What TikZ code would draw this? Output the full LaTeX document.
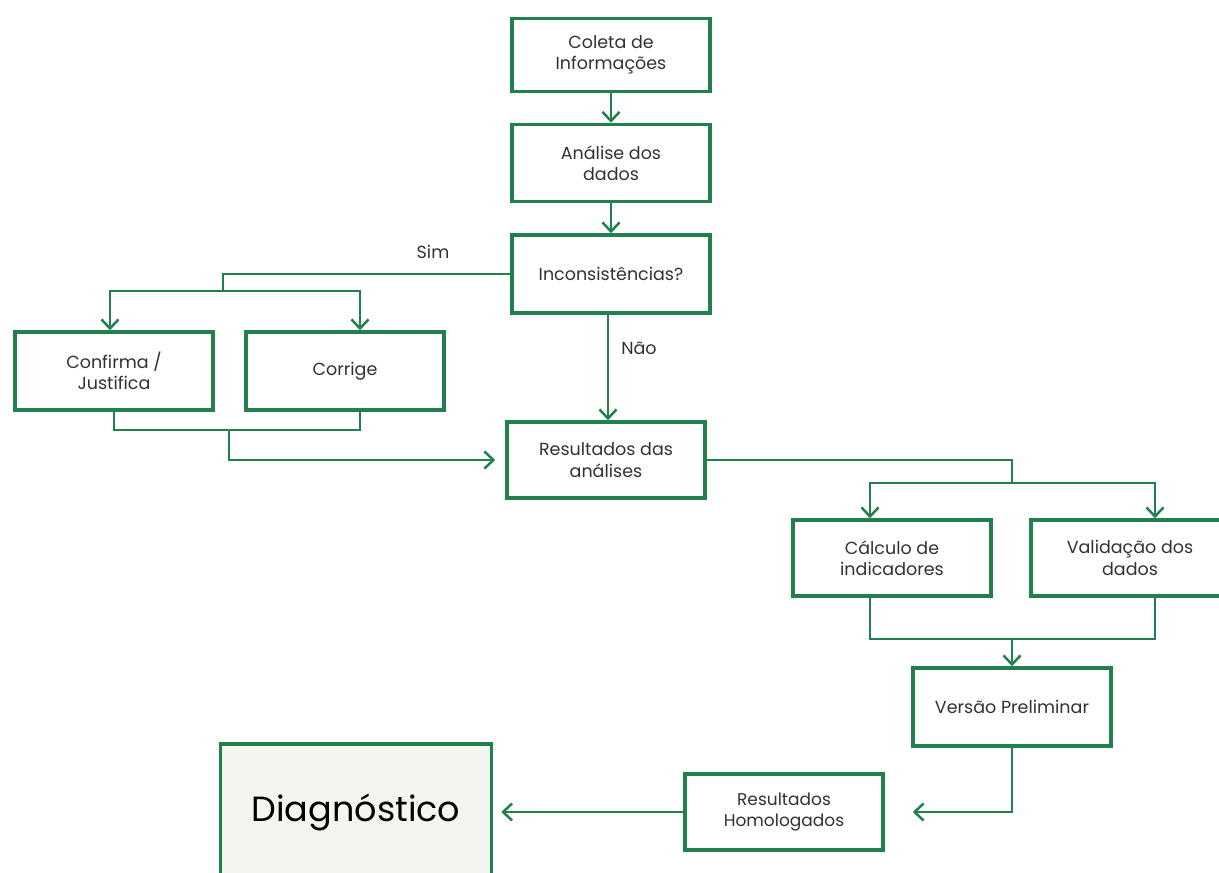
\documentclass[tikz,border=0pt]{standalone}
\usepackage{fontspec}
\setmainfont{Poppins}
\usepackage{tikz}
\usetikzlibrary{arrows.meta}
\definecolor{verde}{RGB}{34,128,76}
\definecolor{texto}{RGB}{50,50,50}
\definecolor{fundo}{RGB}{243,245,239}

\begin{document}
\begin{tikzpicture}[x=1pt,y=-1pt,
	caixa/.style={draw=verde,line width=3.5pt,fill=white,minimum width=198pt,minimum height=77pt,align=center,text=texto,font=\fontsize{17.5}{21.5}\selectfont},
	liga/.style={verde,line width=2.5pt},
	seta/.style={liga,-{Straight Barb[length=9pt,width=17pt,line width=2.5pt]}},
	rotulo/.style={text=texto,font=\fontsize{17.5}{21.5}\selectfont}]
	\useasboundingbox (0,0) rectangle (1219,873);
	\clip (0,0) rectangle (1219,873);
	
	%CAIXAS
	\node[caixa,minimum height=73pt] (coleta) at (611,55) {Coleta de\\Informações};
	\node[caixa] (analise) at (611,163) {Análise dos\\dados};
	\node[caixa,minimum height=78pt] (incons) at (611,274) {Inconsistências?};
	\node[caixa,minimum height=78pt] (confirma) at (114,371) {Confirma /\\Justifica};
	\node[caixa,minimum height=78pt] (corrige) at (345,371) {Corrige};
	\node[caixa,minimum height=76pt] (resanal) at (606,460) {Resultados das\\análises};
	\node[caixa,minimum height=76pt] (calculo) at (892,558) {Cálculo de\\indicadores};
	\node[caixa,minimum height=76pt] (valida) at (1130,558) {Validação dos\\dados};
	\node[caixa,minimum height=78pt] (versao) at (1012,707) {Versão Preliminar};
	\node[caixa,minimum height=76pt,font=\fontsize{17}{21}\selectfont] (homolog) at (784,812) {Resultados\\Homologados};
	\node[caixa,fill=fundo,minimum width=271pt,minimum height=136pt,text=black,font=\fontsize{35}{40}\selectfont] (diag) at (356,812) {Diagnóstico};
	
	%PONTOS DE JUNCAO
	\coordinate (jsim) at (223,291);
	\coordinate (jcor) at (229,430);
	\coordinate (jres) at (1012,483);
	\coordinate (jver) at (1012,639);
	
	%LIGACOES
	\draw[seta] (coleta) -- (analise);
	\draw[seta] (analise) -- (incons);
	\draw[liga] (incons.west) -| (jsim);
	\draw[seta] (jsim) -| ([xshift=-4pt]confirma.north);
	\draw[seta] (jsim) -| ([xshift=15pt]corrige.north);
	\draw[seta] ([xshift=-3pt]incons.south) -- ([xshift=-3pt]incons.south |- resanal.north);
	\draw[liga] (confirma.south) |- (jcor) -| ([xshift=15pt]corrige.south);
	\draw[seta,shorten >=10pt] (jcor) |- (resanal.west);
	\draw[liga] (resanal.east) -| (jres);
	\draw[seta] (jres) -| ([xshift=-22pt]calculo.north);
	\draw[seta] (jres) -| ([xshift=25pt]valida.north);
	\draw[liga] ([xshift=-22pt]calculo.south) |- (jver) -| ([xshift=25pt]valida.south);
	\draw[seta] (jver) -- (versao.north);
	\draw[seta,shorten >=28pt] (versao.south) |- (homolog.east);
	\draw[seta,shorten >=8pt] (homolog.west) -- (diag.east);
	
	%ROTULOS
	\node[rotulo] (sim) at (433,252) {Sim};
	\node[rotulo] (nao) at (639,348) {Não};
\end{tikzpicture}
\end{document}
